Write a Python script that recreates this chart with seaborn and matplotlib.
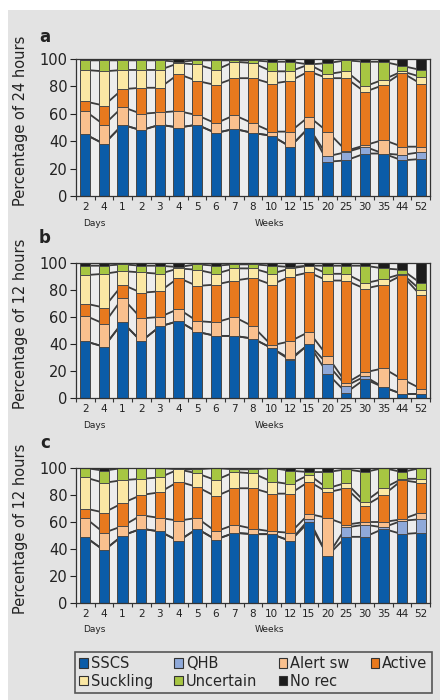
import numpy as np
import matplotlib
matplotlib.use("Agg")
import matplotlib.pyplot as plt
import matplotlib.transforms as mtransforms
import seaborn as sns
from matplotlib.patches import Patch, Rectangle

ages = ["2", "4", "1", "2", "3", "4", "5", "6", "7", "8", "10", "12", "15", "20", "25", "30", "35", "44", "52"]
categories = ["SSCS", "QHB", "Alert sw", "Active", "Suckling", "Uncertain", "No rec"]
colors = ["#0b5ca8", "#8fa9d9", "#f9c08e", "#e8791e", "#fbe8a4", "#a7c642", "#1c1c1c"]

# Panel a: percentage of 24 hours
a_sscs = [45, 38, 52, 48, 52, 50, 52, 46, 49, 46, 44, 36, 50, 25, 26, 31, 31, 26, 27]
a_qhb = [0, 0, 0, 0, 0, 0, 0, 0, 0, 0, 0, 0, 0, 4, 6, 5, 0, 4, 5]
a_alert = [17, 14, 13, 12, 9, 12, 7, 7, 10, 7, 3, 11, 8, 18, 1, 1, 10, 6, 4]
a_active = [7, 14, 13, 19, 18, 27, 25, 28, 27, 33, 35, 37, 33, 39, 53, 39, 40, 54, 46]
a_suck = [23, 25, 14, 13, 13, 8, 12, 11, 12, 11, 9, 7, 5, 3, 5, 4, 4, 1, 5]
a_unc = [7, 8, 7, 7, 7, 1, 3, 7, 1, 2, 7, 7, 0, 8, 8, 18, 13, 4, 5]
a_norec = [1, 1, 1, 1, 1, 2, 1, 1, 1, 1, 2, 2, 4, 3, 1, 2, 2, 5, 8]

# Panel b: percentage of 12 hours
b_sscs = [42, 38, 56, 42, 53, 57, 49, 46, 46, 44, 37, 28, 40, 18, 4, 14, 8, 3, 3]
b_qhb = [0, 0, 0, 0, 0, 0, 0, 0, 0, 0, 0, 1, 0, 7, 5, 2, 0, 0, 0]
b_alert = [19, 17, 18, 17, 7, 9, 8, 10, 14, 9, 2, 13, 9, 6, 2, 3, 14, 11, 4]
b_active = [9, 12, 10, 19, 19, 23, 26, 28, 27, 36, 45, 48, 44, 56, 76, 62, 62, 77, 69]
b_suck = [21, 25, 10, 15, 13, 7, 12, 8, 9, 7, 8, 6, 5, 5, 5, 4, 4, 1, 4]
b_unc = [7, 6, 5, 5, 6, 1, 4, 6, 3, 3, 6, 1, 0, 6, 6, 13, 8, 3, 5]
b_norec = [2, 2, 1, 2, 2, 3, 1, 2, 1, 1, 2, 3, 2, 2, 2, 2, 4, 5, 15]

# Panel c: percentage of 12 hours
c_sscs = [49, 39, 50, 55, 53, 46, 55, 47, 52, 51, 51, 46, 60, 35, 49, 49, 55, 51, 52]
c_qhb = [0, 0, 0, 0, 0, 0, 0, 0, 0, 0, 0, 0, 2, 0, 7, 9, 1, 10, 10]
c_alert = [14, 13, 7, 10, 10, 15, 8, 6, 6, 4, 2, 6, 4, 28, 2, 2, 4, 1, 5]
c_active = [7, 15, 17, 15, 19, 29, 23, 26, 27, 30, 28, 29, 24, 19, 27, 12, 20, 29, 22]
c_suck = [23, 22, 17, 12, 11, 9, 10, 12, 12, 11, 9, 7, 5, 3, 4, 3, 5, 1, 3]
c_unc = [7, 9, 9, 8, 7, 0, 3, 9, 2, 3, 10, 10, 2, 12, 10, 22, 15, 5, 8]
c_norec = [0, 2, 0, 0, 0, 1, 1, 0, 1, 1, 0, 2, 3, 3, 1, 3, 0, 3, 0]

panels = [
    ("a", "Percentage of 24 hours", [a_sscs, a_qhb, a_alert, a_active, a_suck, a_unc, a_norec]),
    ("b", "Percentage of 12 hours", [b_sscs, b_qhb, b_alert, b_active, b_suck, b_unc, b_norec]),
    ("c", "Percentage of 12 hours", [c_sscs, c_qhb, c_alert, c_active, c_suck, c_unc, c_norec]),
]

sns.set_theme(style="ticks")
plt.rcParams['font.family'] = ['DejaVu Sans']

W, H = 440, 700
fig = plt.figure(figsize=(4.4, 7), dpi=100)
fig.patch.set_facecolor('white')
fig.add_artist(Rectangle((8 / W, 0), 1 - 8 / W, 1 - 10 / H, transform=fig.transFigure,
                         facecolor='#e3e3e3', edgecolor='none', zorder=-5))

# axes pixel boxes: (top, bottom)
boxes = [(59, 196), (263, 398), (468, 603)]
letter_y = [37, 238, 443]
left_px, right_px = 76, 430

for (letter, ylabel, data), (top, bot), ly in zip(panels, boxes, letter_y):
    ax = fig.add_axes([left_px / W, 1 - bot / H, (right_px - left_px) / W, (bot - top) / H])
    ax.set_facecolor('#ededed')
    cum = np.cumsum(np.array(data, dtype=float), axis=0)
    x = np.arange(len(ages))
    for k in range(6):
        sns.lineplot(x=x, y=cum[k], ax=ax, color='#3c3c3c', lw=1.3, zorder=1)
    for k in range(6, -1, -1):
        sns.barplot(x=x, y=cum[k], ax=ax, color=colors[k], saturation=1, width=0.55,
                    edgecolor='#4a4a4a', linewidth=0.7, zorder=2)
    ax.set_xlim(-0.42, 18.4)
    ax.set_ylim(0, 100)
    ax.set_yticks([0, 20, 40, 60, 80, 100])
    ax.tick_params(axis='y', length=4, width=0.8, pad=2, labelsize=10.5, colors='#222222')
    ax.set_xticks(x)
    ax.set_xticklabels(ages)
    ax.tick_params(axis='x', which='major', length=0, pad=4, labelsize=7.5, colors='#222222')
    ax.set_xticks(np.arange(-0.5, 19, 1), minor=True)
    ax.tick_params(axis='x', which='minor', length=3, width=0.8, color='#333333')
    ax.set_xlabel('')
    for s in ax.spines.values():
        s.set_visible(True)
        s.set_color('#333333')
        s.set_linewidth(0.9)
    ax.set_ylabel(ylabel, fontsize=10.5, color='#222222')
    ax.yaxis.set_label_coords(-(left_px - 28) / (right_px - left_px), 0.55)
    trans = mtransforms.blended_transform_factory(ax.transData, ax.transAxes)
    ax.text(0.5, -27 / (bot - top), "Days", transform=trans, ha='center', va='center',
            fontsize=6.5, color='#222222')
    ax.text(9.9, -27 / (bot - top), "Weeks", transform=trans, ha='center', va='center',
            fontsize=6.5, color='#222222')
    fig.text(45 / W, 1 - ly / H, letter, fontsize=12, fontweight='bold', ha='center',
             va='center', color='#222222')

# legend filled row by row (matplotlib fills column-wise)
order = [0, 4, 1, 5, 2, 6, 3]
handles = [Patch(facecolor=colors[i], edgecolor='#333333', linewidth=0.8) for i in order]
labels = [categories[i] for i in order]
leg = fig.legend(handles, labels, ncol=4, loc='center',
                 bbox_to_anchor=(75 / W, 1 - 695 / H, 357 / W, 45 / H), mode='expand',
                 frameon=True, fancybox=False, edgecolor='#333333', facecolor='#e3e3e3',
                 fontsize=10.5, handlelength=0.6, handleheight=0.6, handletextpad=0.2,
                 columnspacing=0.5, borderpad=0.3, labelspacing=0.2, borderaxespad=0)
leg.get_frame().set_linewidth(1.2)

fig.savefig("out.png", dpi=100)
